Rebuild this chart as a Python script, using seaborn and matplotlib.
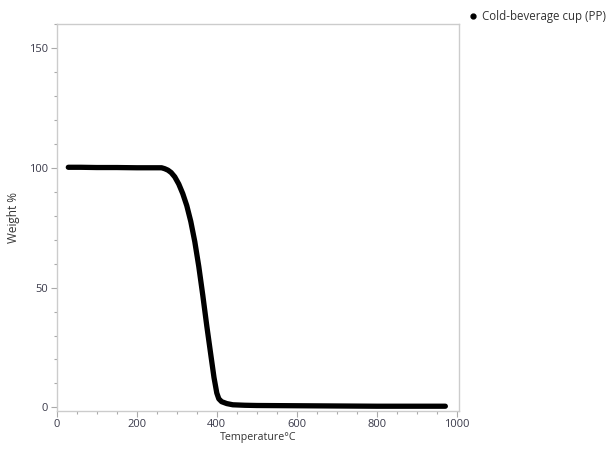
import matplotlib
matplotlib.use("Agg")
import matplotlib.pyplot as plt
from matplotlib.lines import Line2D
from matplotlib.ticker import MultipleLocator
import seaborn as sns
import pandas as pd

sns.set_style("white")
plt.rcParams['font.family'] = ['Open Sans', 'DejaVu Sans']

# TGA curve
temperature = [29, 60, 100, 150, 200, 240, 262, 270, 278, 286, 295, 305, 315, 325, 335,
               345, 355, 365, 375, 385, 393, 400, 405, 412, 425, 440, 470, 500, 600,
               700, 800, 900, 971]
weight = [100.2, 100.2, 100.1, 100.1, 100.0, 100.0, 100.0, 99.6, 99.0, 98.0, 96.2, 93.2,
          89.2, 84.2, 77.6, 69.2, 58.8, 46.8, 34.0, 22.0, 12.5, 6.0, 3.6, 2.4, 1.6, 1.1,
          0.9, 0.8, 0.7, 0.6, 0.5, 0.5, 0.5]
series_name = "Cold-beverage cup (PP)"

df = pd.DataFrame({"Temperature": temperature, "Weight": weight})

fig = plt.figure(figsize=(6.07, 4.49), dpi=100)
ax = fig.add_axes([0.0934, 0.0846, 0.6627, 0.862])

sns.lineplot(data=df, x="Temperature", y="Weight", ax=ax, color="black",
             linewidth=3.8, sort=False, solid_capstyle="round", solid_joinstyle="round")

ax.set_xlim(0, 1005)
ax.set_ylim(-1.5, 160)
ax.xaxis.set_major_locator(MultipleLocator(200))
ax.xaxis.set_minor_locator(MultipleLocator(50))
ax.yaxis.set_major_locator(MultipleLocator(50))
ax.yaxis.set_minor_locator(MultipleLocator(10))

for s in ax.spines.values():
    s.set_color("#cccccc")
    s.set_linewidth(1.0)
ax.tick_params(axis="both", which="major", length=4, width=0.8, color="#aaaaaa",
               labelsize=8, labelcolor="#3a3a4a", pad=2)
ax.tick_params(axis="both", which="minor", length=2.5, width=0.8, color="#aaaaaa")
ax.tick_params(bottom=True, left=True, which="both")

ax.set_xlabel("Temperature°C", fontsize=7.7, color="#333333", labelpad=1)
ax.set_ylabel("Weight %", fontsize=8.5, color="#333333", labelpad=7)

handle = Line2D([], [], marker="o", linestyle="none", color="black", markersize=3.5)
fig.legend([handle], [series_name], loc="upper left", bbox_to_anchor=(0.753, 1.0),
           frameon=False, fontsize=8.3, handletextpad=0.3, handlelength=1.0,
           labelcolor="#333333")

fig.savefig("out.png", dpi=100)
